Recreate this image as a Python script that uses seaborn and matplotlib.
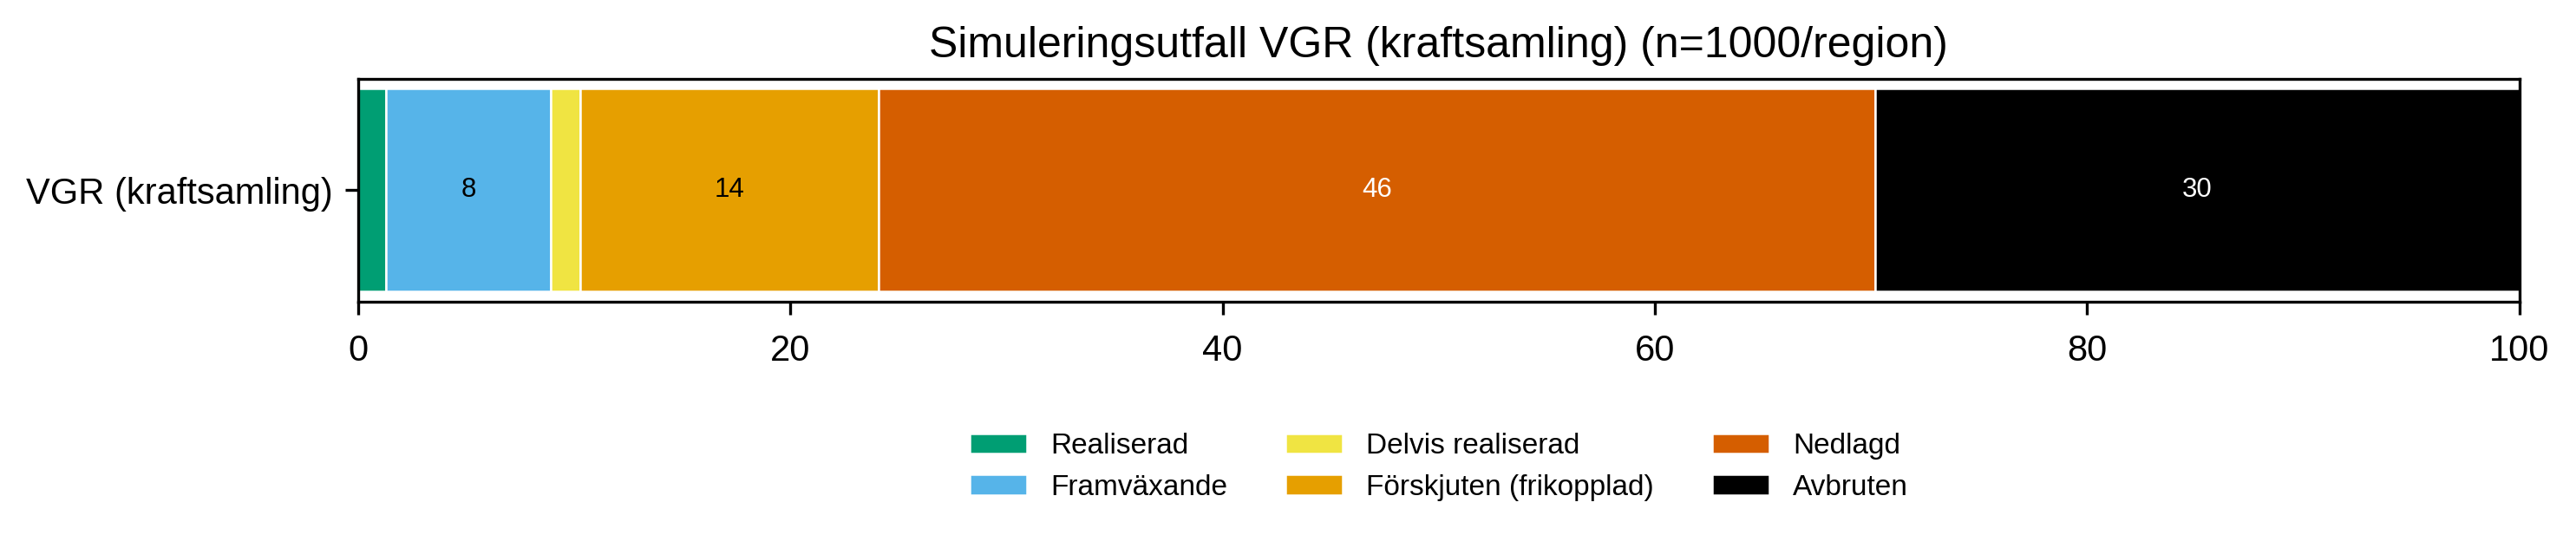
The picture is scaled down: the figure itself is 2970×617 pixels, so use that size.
import matplotlib
matplotlib.use("Agg")
import matplotlib.pyplot as plt
import seaborn as sns
import pandas as pd

region = "VGR (kraftsamling)"
outcomes = ["Realiserad", "Framväxande", "Delvis realiserad",
            "Förskjuten (frikopplad)", "Nedlagd", "Avbruten"]
shares = [1.3, 7.6, 1.4, 13.8, 46.1, 29.8]
colors = ["#009E73", "#56B4E9", "#F0E442", "#E69F00", "#D55E00", "#000000"]
text_colors = ["black", "black", "black", "black", "white", "white"]

plt.rcParams['font.family'] = ['Liberation Sans', 'DejaVu Sans']

fig, ax = plt.subplots(figsize=(9.9, 617 / 300), dpi=300)
fig.subplots_adjust(left=0.139, right=0.978, top=0.853, bottom=0.436)

left = 0
for name, val, col, tcol in zip(outcomes, shares, colors, text_colors):
    df = pd.DataFrame({"region": [region], "share": [val]})
    sns.barplot(data=df, x="share", y="region", orient="h", color=col,
                width=0.9, left=left, edgecolor="white", linewidth=0.6,
                label=name, ax=ax, saturation=1)
    lab = [f"{val:.0f}" if val >= 5 else ""]
    ax.bar_label(ax.containers[-1], labels=lab, label_type="center",
                 color=tcol, fontsize=7.5)
    left += val

ax.set_xlim(0, 100)
ax.set_ylim(0.495, -0.495)
ax.set_xlabel("")
ax.set_ylabel("")
ax.tick_params(axis="both", labelsize=10)
ax.tick_params(axis="x", pad=5.5)
ax.set_title("Simuleringsutfall VGR (kraftsamling) (n=1000/region)", fontsize=12)
ax.legend(loc="upper center", bbox_to_anchor=(0.5, -0.47), ncol=3,
          frameon=False, fontsize=8, columnspacing=2.0)

fig.savefig("out.png", dpi=300)
